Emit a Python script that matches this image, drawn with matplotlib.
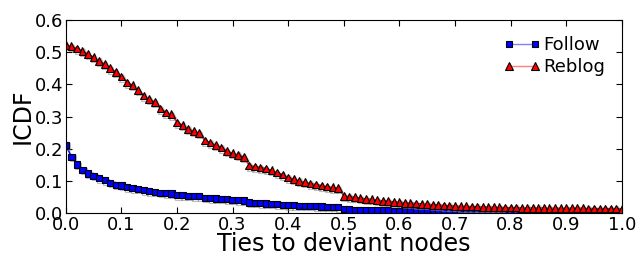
import matplotlib
matplotlib.use("Agg")
import matplotlib.pyplot as plt
import matplotlib.patheffects as pe
import numpy as np

# x grid: fraction of ties to deviant nodes (step 0.01)
x = np.linspace(0.0, 1.0, 101)

follow = [0.211, 0.175, 0.151, 0.135, 0.123, 0.116, 0.108, 0.102, 0.094, 0.088,
          0.086, 0.080, 0.077, 0.075, 0.071, 0.068, 0.066, 0.063, 0.062, 0.061,
          0.056, 0.055, 0.054, 0.053, 0.052, 0.047, 0.046, 0.045, 0.044, 0.043,
          0.041, 0.040, 0.039, 0.033, 0.032, 0.031, 0.030, 0.029, 0.028, 0.026,
          0.025, 0.024, 0.023, 0.022, 0.022, 0.021, 0.020, 0.019, 0.019, 0.018,
          0.0115, 0.011, 0.0105, 0.010, 0.0095, 0.009, 0.0085, 0.008, 0.008, 0.0075,
          0.007, 0.007, 0.0065, 0.006, 0.006, 0.0055, 0.005, 0.005, 0.005, 0.0045,
          0.004, 0.004, 0.004, 0.004, 0.0038, 0.0036, 0.0035, 0.0034, 0.0033, 0.0032,
          0.003, 0.003, 0.003, 0.0029, 0.0028, 0.0027, 0.0026, 0.0026, 0.0025, 0.0025,
          0.0024, 0.0024, 0.0023, 0.0023, 0.0022, 0.0022, 0.0021, 0.0021, 0.002, 0.002,
          0.002]

reblog = [0.522, 0.519, 0.512, 0.504, 0.494, 0.485, 0.473, 0.463, 0.450, 0.439,
          0.425, 0.406, 0.398, 0.382, 0.365, 0.354, 0.346, 0.325, 0.313, 0.307,
          0.282, 0.274, 0.262, 0.255, 0.248, 0.226, 0.219, 0.211, 0.204, 0.193,
          0.186, 0.181, 0.175, 0.148, 0.145, 0.142, 0.139, 0.133, 0.126, 0.120,
          0.111, 0.106, 0.100, 0.096, 0.092, 0.089, 0.086, 0.082, 0.080, 0.077,
          0.054, 0.051, 0.049, 0.047, 0.044, 0.043, 0.040, 0.038, 0.037, 0.035,
          0.034, 0.032, 0.031, 0.030, 0.029, 0.028, 0.026, 0.025, 0.024, 0.023,
          0.022, 0.021, 0.021, 0.020, 0.020, 0.019, 0.019, 0.018, 0.018, 0.017,
          0.017, 0.017, 0.016, 0.016, 0.016, 0.016, 0.016, 0.015, 0.015, 0.015,
          0.015, 0.015, 0.015, 0.015, 0.014, 0.014, 0.014, 0.014, 0.014, 0.014,
          0.013]

fig = plt.figure(figsize=(6.39, 2.57), dpi=100)
ax = fig.add_axes([0.103, 0.171, 0.870, 0.751])

shadow = [pe.SimpleLineShadow(offset=(1, -1), shadow_color='gray', alpha=0.5), pe.Normal()]

ax.plot(x, follow, color='blue', marker='s', markersize=4.5, markerfacecolor='blue',
        markeredgecolor='black', markeredgewidth=0.8, linewidth=1, label='Follow',
        path_effects=shadow)
ax.plot(x, reblog, color='red', marker='^', markersize=5.5, markerfacecolor='red',
        markeredgecolor='black', markeredgewidth=0.8, linewidth=1, label='Reblog',
        path_effects=shadow)

ax.set_xlim(0, 1)
ax.set_ylim(0, 0.6)
ax.set_xticks(np.arange(0, 1.01, 0.1))
ax.set_yticks(np.arange(0, 0.61, 0.1))
ax.set_xticklabels(['%.1f' % v for v in np.arange(0, 1.01, 0.1)])
ax.set_yticklabels(['%.1f' % v for v in np.arange(0, 0.61, 0.1)])
ax.tick_params(direction='in', top=True, right=True, labelsize=13, length=4, pad=2)

ax.set_xlabel('Ties to deviant nodes', fontsize=17, labelpad=-1)
ax.set_ylabel('ICDF', fontsize=17, labelpad=0)

leg = ax.legend(loc='upper right', frameon=False, fontsize=13, numpoints=2,
                handlelength=2.0, handletextpad=0.2, labelspacing=0.2,
                borderaxespad=0.5)
for h, c in zip(leg.legend_handles, ['blue', 'red']):
    h.set_path_effects([])
    h.set_color((0, 0, 1, 0.5) if c == 'blue' else (1, 0, 0, 0.5))
    h.set_markerfacecolor(c)
    h.set_markeredgecolor('black')

fig.savefig('out.png', dpi=100)
